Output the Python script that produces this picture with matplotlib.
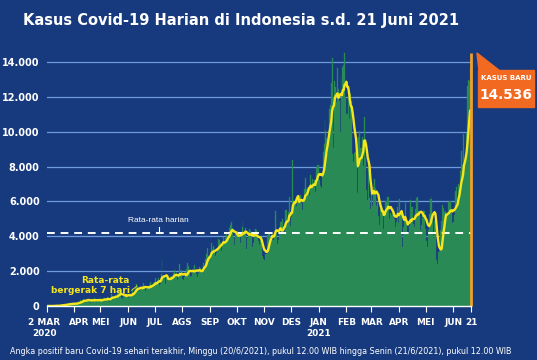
import numpy as np
import pandas as pd
import matplotlib.pyplot as plt
from matplotlib.patches import Rectangle, Polygon

# Daily new cases, Indonesia, 2 Mar 2020 - 21 Jun 2021
mar20 = [2, 0, 0, 0, 2, 0, 2, 13, 8, 7, 0, 35, 27, 21, 17, 38, 55, 82, 60, 81,
         64, 65, 106, 105, 103, 153, 109, 130, 129, 114]
apr20 = [149, 113, 196, 106, 181, 218, 247, 218, 337, 219, 330, 399, 316, 282, 297,
         380, 407, 325, 327, 185, 375, 283, 357, 436, 396, 275, 214, 415, 260, 347]
may20 = [433, 292, 349, 395, 484, 367, 338, 336, 533, 387, 233, 484, 689, 568, 490,
         529, 489, 496, 486, 693, 973, 634, 949, 526, 479, 415, 686, 687, 678, 557, 700]
jun20 = [467, 609, 684, 585, 703, 993, 672, 847, 1043, 1241, 979, 1111, 1014, 857, 1017,
         1106, 1031, 1331, 1041, 1226, 862, 954, 1051, 1113, 1178, 1385, 1180, 1198, 1082, 1293]
jul20 = [1385, 1624, 1301, 1447, 1607, 1209, 1268, 1853, 2657, 1611, 1671, 1681, 1282, 1591,
         1522, 1574, 1462, 1752, 1639, 1693, 1655, 1882, 2040, 1761, 1868, 1492, 1525, 1748,
         2381, 1904, 2040]
aug20 = [1560, 1519, 1679, 1815, 1815, 2138, 2473, 2277, 1893, 1687, 1693, 1942, 2098, 2307,
         2345, 2081, 1821, 1673, 1902, 2266, 2197, 2090, 2037, 2149, 2447, 2306, 2719, 3003,
         3308, 2858, 2743]
sep20 = [2775, 3075, 3622, 3269, 3444, 3161, 2881, 3046, 3307, 3861, 3737, 3806, 3636, 3141,
         3507, 3963, 3635, 3891, 4168, 3989, 3989, 4071, 4465, 4634, 4823, 4494, 3874, 3509,
         4002, 4284]
oct20 = [4174, 4317, 4007, 3992, 3622, 4056, 4538, 4850, 4094, 4294, 4497, 3267, 3906, 4127,
         4411, 4301, 4301, 4105, 3373, 3602, 4267, 4432, 4369, 4070, 3732, 3222, 3520, 4029,
         3565, 2897, 2696]
nov20 = [2618, 2973, 2973, 4065, 4065, 4262, 4262, 3880, 3880, 3779, 3770, 4173, 5444, 5272,
         4106, 3535, 3807, 4265, 4798, 4792, 4998, 4360, 4442, 4192, 5534, 5534, 4917, 5418,
         6267, 4617]
dec20 = [5092, 5533, 8369, 5803, 6027, 6089, 5754, 6058, 6058, 6033, 6310, 6388, 5905, 5489,
         6120, 6725, 7354, 6689, 6725, 6848, 6848, 6347, 7514, 6772, 7259, 6982, 7203, 6528,
         7903, 8002, 8074]
jan21 = [8072, 7203, 6877, 6753, 7445, 8854, 9321, 10617, 10046, 9640, 8692, 10047, 11278,
         11557, 12818, 14224, 11287, 9086, 12910, 12568, 11703, 13632, 12439, 11788, 9994,
         13094, 11948, 13695, 13802, 14518, 12001]
feb21 = [10994, 10994, 11984, 11434, 10724, 12156, 11749, 8700, 8242, 8776, 8844, 8435, 6765,
         6462, 9687, 10029, 9039, 9039, 9687, 8054, 10856, 9775, 8493, 6679, 6078, 8232,
         6208, 5560]
mar21 = [6680, 5712, 6808, 6971, 7264, 6760, 5745, 5925, 5144, 4651, 5508, 5735, 5472, 5633,
         4396, 5325, 6000, 6004, 6267, 6267, 4982, 4854, 5326, 5227, 5364, 5580, 5008, 4529,
         4810, 5701, 6070]
apr21 = [4761, 6142, 5325, 5294, 3356, 4549, 5170, 5937, 4862, 4711, 4127, 4123, 4582, 6064,
         5656, 5656, 4693, 4125, 4505, 5549, 6177, 6243, 5436, 5436, 4355, 4656, 5241, 5587,
         5444, 5444]
may21 = [4421, 3731, 3404, 4369, 5285, 6130, 6327, 6130, 5000, 3922, 4891, 4608, 2633, 2385,
         3080, 2475, 3158, 4348, 4871, 5797, 5600, 5403, 5426, 5207, 4409, 5205, 5990, 6033,
         6036, 5555, 4733]
jun21 = [4824, 5246, 6486, 6594, 6850, 6109, 6993, 6294, 7725, 8892, 8083, 8569, 9868, 8189,
         8161, 9944, 12624, 12990, 12906, 13737, 14536]

month_labels = ['2 MAR\n2020', 'APR', 'MEI', 'JUN', 'JUL', 'AGS', 'SEP', 'OKT', 'NOV',
                'DES', 'JAN\n2021', 'FEB', 'MAR', 'APR', 'MEI', 'JUN', '21']
yticks = [0, 2000, 4000, 6000, 8000, 10000, 12000, 14000]

daily = np.array(mar20 + apr20 + may20 + jun20 + jul20 + aug20 + sep20 + oct20 + nov20
                 + dec20 + jan21 + feb21 + mar21 + apr21 + may21 + jun21)
dates = pd.date_range('2020-03-02', periods=len(daily), freq='D')
day = np.arange(len(daily))
avg7 = pd.Series(daily).rolling(7, min_periods=1).mean().values
overall_mean = daily.mean()

bg = '#173a7e'
green = '#2a8a55'
yellow = '#f5e51b'
orange = '#f0a02a'

fig = plt.figure(figsize=(5.37, 3.6), dpi=100, facecolor=bg)
ax = fig.add_axes([46.6 / 537, 54 / 360, 424.9 / 537, 254.5 / 360])
ax.set_facecolor(bg)

ax.bar(day[:-1], daily[:-1], width=1.0, color=green, edgecolor=green, linewidth=0.2,
       zorder=2)
ax.bar(day[-1], daily[-1], width=1, color=orange, edgecolor=orange, linewidth=2,
       zorder=5, clip_on=False)
ax.plot(day[:-1], avg7[:-1], color=yellow, lw=1.7, zorder=4, solid_capstyle='round')
ax.axhline(overall_mean, color='white', lw=1.4, ls=(0, (4, 3)), zorder=3)

ax.set_xlim(-0.5, len(daily) - 0.5)
ax.set_ylim(0, 14600)

# month ticks, labels drawn by hand so APR can be nudged clear of "2 MAR"
tick_dates = [dates[0]] + [d for d in dates if d.day == 1] + [dates[-1]]
tick_pos = [dates.get_loc(d) for d in tick_dates]
ax.set_xticks(tick_pos)
ax.set_xticklabels([])
ax.tick_params(axis='x', colors='white', length=4, width=0.8)
xform = ax.get_xaxis_transform()
for i, (p, lab) in enumerate(zip(tick_pos, month_labels)):
    shift = 6 if i == 1 else (-3 if i == 0 else 0)
    ax.text(p + shift, -0.048, lab, transform=xform, color='white', fontsize=6.4,
            fontweight='bold', ha='center', va='top', linespacing=1.25)

ax.set_yticks(yticks)
ax.set_yticklabels([f'{v:,}'.replace(',', '.') for v in yticks], color='white',
                   fontsize=7, fontweight='bold')
ax.tick_params(axis='y', length=0, pad=5)
ax.grid(axis='y', color='#6d9ad8', lw=0.9, zorder=1)
for s in ['top', 'right', 'left']:
    ax.spines[s].set_visible(False)
ax.spines['bottom'].set_color('white')
ax.spines['bottom'].set_linewidth(1)
ax.spines['bottom'].set_zorder(6)

# labels
ax.text(125, overall_mean + 700, 'Rata-rata harian', color='white', fontsize=6,
        family='Liberation Sans', ha='center', va='center')
ax.plot([126, 126], [overall_mean, overall_mean + 350], color='white', lw=0.8, zorder=3)
ax.text(93, 1200, 'Rata-rata\nbergerak 7 hari', color=yellow, fontsize=6.5,
        fontweight='bold', ha='right', va='center', multialignment='right',
        linespacing=1.15, zorder=6)
ax.plot([95, 101], [900, 1150], color=yellow, lw=0.6, zorder=6)

# callout
fig.patches.append(Polygon([(477 / 537, 1 - 53 / 360), (479 / 537, 1 - 71 / 360),
                            (500 / 537, 1 - 71 / 360)], closed=True, color='#f26a22',
                           transform=fig.transFigure))
fig.patches.append(Rectangle((478 / 537, 1 - 107 / 360), 56 / 537, 37 / 360,
                             color='#f26a22', transform=fig.transFigure))
fig.text(506 / 537, 1 - 78 / 360, 'KASUS BARU', color='white', fontsize=5,
         fontweight='bold', ha='center', va='center')
fig.text(506 / 537, 1 - 95 / 360, f'{daily[-1]:,}'.replace(',', '.'), color='white',
         fontsize=9.8, fontweight='bold', ha='center', va='center')

fig.text(23 / 537, 1 - 21 / 360, 'Kasus Covid-19 Harian di Indonesia s.d. 21 Juni 2021',
         color='white', fontsize=10.55, fontweight='bold', ha='left', va='center')
fig.text(10 / 537, 1 - 352 / 360,
         'Angka positif baru Covid-19 sehari terakhir, Minggu (20/6/2021), pukul 12.00 WIB '
         'hingga Senin (21/6/2021), pukul 12.00 WIB',
         color='white', fontsize=5.8, ha='left', va='center')

fig.savefig('out.png', dpi=100, facecolor=bg)
